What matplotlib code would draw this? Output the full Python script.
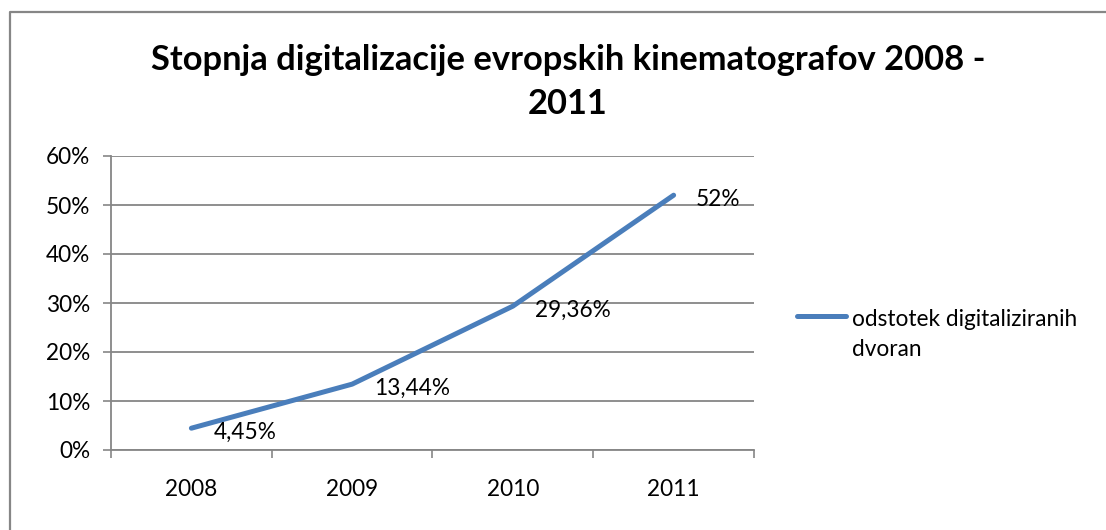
import matplotlib.pyplot as plt
from matplotlib.lines import Line2D

plt.rcParams['font.family'] = ['Lato', 'DejaVu Sans']

years = ['2008', '2009', '2010', '2011']
digitalised = [4.45, 13.44, 29.36, 52.0]
value_labels = ['4,45%', '13,44%', '29,36%', '52%']
y_ticks = [0, 10, 20, 30, 40, 50, 60]
legend_label = 'odstotek digitaliziranih\ndvoran'
title = 'Stopnja digitalizacije evropskih kinematografov 2008 -\n2011'

W, H = 1106, 530
fig = plt.figure(figsize=(W / 100, H / 100), dpi=100)
ax = fig.add_axes([111 / W, 1 - 450 / H, (754 - 111) / W, (450 - 156) / H])

blue = '#4A7EBB'
grid_c = '#868686'
fs = 16.3

x = list(range(1, len(years) + 1))
ax.plot(x, digitalised, color=blue, lw=3.6, solid_capstyle='round', solid_joinstyle='round', zorder=3)
for xi, v, lab in zip(x, digitalised, value_labels):
    ax.annotate(lab, (xi, v), xytext=(16, -3), textcoords='offset points',
                ha='left', va='center', fontsize=fs, color='black', zorder=4)

ax.set_xlim(0.5, len(years) + 0.5)
ax.set_ylim(0, 60)
ax.set_yticks(y_ticks)
ax.set_yticklabels([f'{t}%' for t in y_ticks])
ax.set_xticks(x)
ax.set_xticklabels(years)
ax.set_xticks([i + 0.5 for i in range(len(years) + 1)], minor=True)

ax.tick_params(axis='y', length=6, width=1.2, color=grid_c, pad=9, labelsize=fs)
ax.tick_params(axis='x', which='major', length=0, pad=21, labelsize=fs)
ax.tick_params(axis='x', which='minor', length=6, width=1.2, color=grid_c)

ax.grid(axis='y', color=grid_c, lw=1.3)
ax.set_axisbelow(True)
for s in ['top', 'right']:
    ax.spines[s].set_visible(False)
for s in ['left', 'bottom']:
    ax.spines[s].set_color(grid_c)
    ax.spines[s].set_linewidth(1.3)

fig.text(568 / W, 1 - 82 / H, title, ha='center', va='center', fontsize=24.8,
         fontweight='bold', linespacing=1.45)

# legend drawn by hand so the key sits on the first text line
ly = 1 - 316 / H
fig.add_artist(Line2D([797 / W, 846 / W], [ly, ly], color=blue, lw=3.6, solid_capstyle='round'))
fig.text(852 / W, ly + 0.013, legend_label, ha='left', va='top', fontsize=fs,
         linespacing=1.5)

# outer chart border (top and left edges visible)
fig.add_artist(Line2D([10 / W, 10 / W, 1.0], [0.0, 1 - 12 / H, 1 - 12 / H], color=grid_c, lw=1.6))

fig.savefig('out.png', dpi=100)
